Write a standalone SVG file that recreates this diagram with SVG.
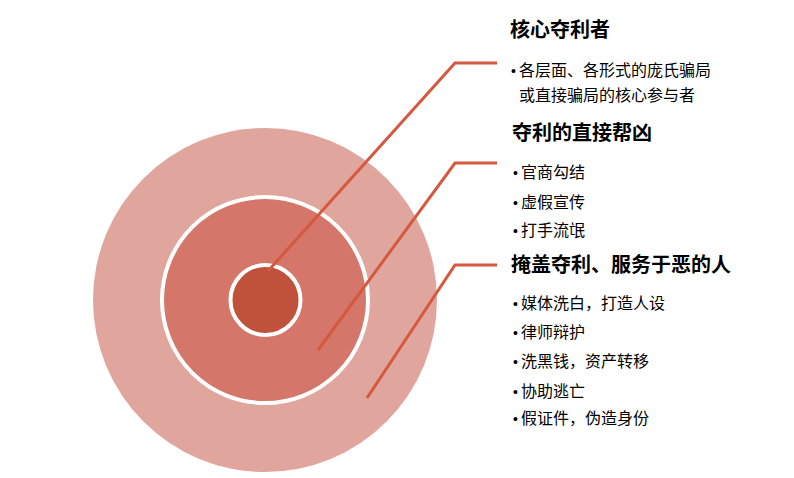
<svg xmlns="http://www.w3.org/2000/svg" width="794" height="478" viewBox="0 0 794 478">
<style>
.t{font-family:"Noto Sans CJK SC","Liberation Sans",sans-serif;font-weight:bold;font-size:20px;fill:#000}
.b{font-family:"Noto Sans CJK SC","Liberation Sans",sans-serif;font-size:16px;fill:#000}
.d{font-family:"Liberation Sans",sans-serif;font-size:14px;fill:#000}
.c{fill:none;stroke:#D6583E;stroke-width:3;stroke-linejoin:miter}
</style>
<rect width="794" height="478" fill="#fff"/>
<g id="ring-outer"><circle cx="265" cy="300" r="172" fill="#E0A69D"/></g>
<g id="ring-middle"><circle cx="265" cy="300" r="103" fill="#D4776A" stroke="#fff" stroke-width="4"/></g>
<g id="ring-inner"><circle cx="265.5" cy="300" r="35" fill="#C0523B" stroke="#fff" stroke-width="4"/></g>
<g id="connectors">
<polyline class="c" points="268,271 455,63 497,63"/>
<polyline class="c" points="318,350 455,163 497,163"/>
<polyline class="c" points="367,398 455,265 497,265"/>
</g>
<g id="label-1">
<text class="t" x="510" y="37">核心夺利者</text>
<text class="d" x="511" y="76">•</text><text class="b" x="519" y="76">各层面、各形式的庞氏骗局</text>
<text class="b" x="519" y="101">或直接骗局的核心参与者</text>
</g>
<g id="label-2">
<text class="t" x="512" y="140">夺利的直接帮凶</text>
<text class="d" x="513" y="178">•</text><text class="b" x="521" y="178">官商勾结</text>
<text class="d" x="513" y="208">•</text><text class="b" x="521" y="208">虚假宣传</text>
<text class="d" x="513" y="236">•</text><text class="b" x="521" y="236">打手流氓</text>
</g>
<g id="label-3">
<text class="t" x="511" y="272">掩盖夺利、服务于恶的人</text>
<text class="d" x="513" y="309">•</text><text class="b" x="521" y="309">媒体洗白，打造人设</text>
<text class="d" x="513" y="338">•</text><text class="b" x="521" y="338">律师辩护</text>
<text class="d" x="513" y="367">•</text><text class="b" x="521" y="367">洗黑钱，资产转移</text>
<text class="d" x="513" y="397">•</text><text class="b" x="521" y="397">协助逃亡</text>
<text class="d" x="513" y="424">•</text><text class="b" x="521" y="424">假证件，伪造身份</text>
</g>
</svg>
